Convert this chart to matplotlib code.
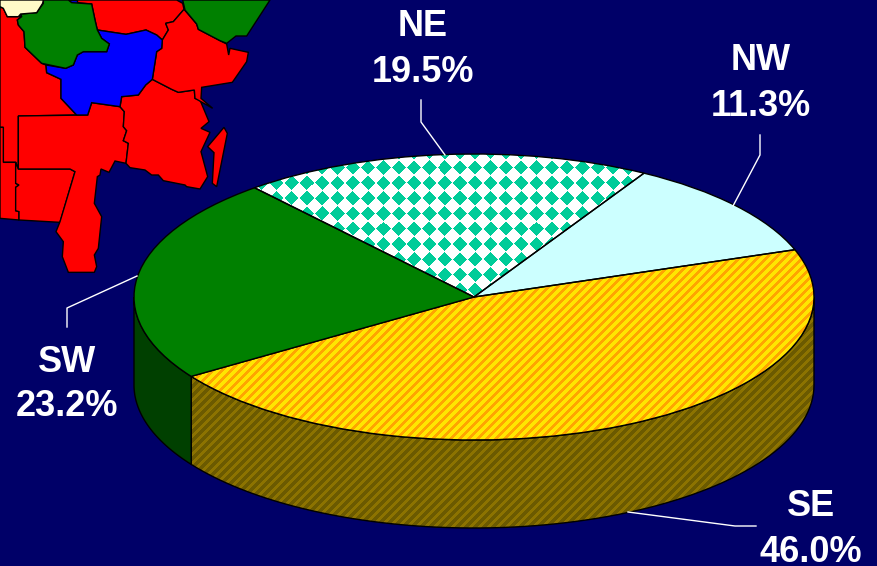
import numpy as np
import matplotlib
matplotlib.use('Agg')
import matplotlib.pyplot as plt
from matplotlib.patches import Polygon

##################################################################
# DATA
##################################################################
regions = ['NW', 'SE', 'SW', 'NE']
shares = [11.3, 46.0, 23.2, 19.5]
share_labels = ['11.3%', '46.0%', '23.2%', '19.5%']
start_angle = 60.0

map_west = [(0,20),(10,25),(22,50),(55,50),(65,50),(52,60),(55,75),(72,95),(75,142),(125,190),(138,195),(140,218),(183,238),(183,295),(230,345),(55,348),(55,505),(47,487),(10,487),(10,382),(0,382)]
map_sw1 = [(0,382),(10,382),(10,487),(47,487),(47,550),(57,555),(47,562),(47,632),(57,635),(57,660),(0,655)]
map_sw2 = [(55,507),(210,507),(225,515),(180,667),(57,660),(57,635),(47,632),(47,562),(57,555),(47,550),(47,487)]
map_mid = [(55,348),(263,345),(275,308),(360,320),(373,335),(370,380),(380,392),(370,422),(385,430),(378,490),(345,483),(327,517),(303,507),(300,525),(292,530),(283,610),(305,650),(295,745),(283,765),(290,800),(283,817),(205,817),(187,770),(190,725),(168,695),(180,665),(225,515),(210,507),(55,507)]
map_east = [(457,238),(515,268),(535,277),(583,270),(585,295),(600,300),(627,365),(603,385),(630,397),(603,455),(623,530),(600,567),(560,560),(555,555),(490,542),(475,525),(455,525),(435,510),(390,503),(378,490),(385,430),(370,422),(380,392),(370,380),(373,335),(360,320),(365,290),(415,285),(437,255)]
map_island = [(672,382),(682,400),(650,560),(637,550),(642,458),(623,440)]
map_north = [(232,8),(275,12),(285,60),(292,90),(378,103),(438,90),(470,105),(487,120),(505,90),(497,70),(520,65),(552,28),(548,10),(530,0),(232,0)]
map_ne = [(552,28),(590,72),(595,88),(660,122),(680,132),(686,165),(690,145),(745,157),(740,185),(697,247),(605,262),(603,295),(638,325),(585,295),(583,270),(535,277),(515,268),(457,238),(470,155),(485,145),(487,120),(505,90),(497,70),(520,65)]
map_blue = [(292,90),(378,103),(438,90),(470,105),(487,120),(485,145),(470,155),(457,238),(437,255),(415,285),(365,290),(360,320),(275,308),(263,345),(230,345),(183,295),(183,238),(140,218),(138,195),(197,205),(220,195),(232,165),(250,155),(320,155),(328,132),(305,115)]
map_blue_top = [(205,0),(232,0),(232,8),(215,8)]
map_green_w = [(130,0),(205,0),(215,8),(275,12),(285,60),(292,90),(305,115),(328,132),(320,155),(250,155),(232,165),(220,195),(197,205),(125,190),(75,142),(72,95),(55,75),(52,60),(65,50),(62,42),(110,38),(130,10)]
map_green_e = [(548,0),(555,30),(590,72),(595,88),(660,122),(680,130),(708,108),(740,108),(810,0)]
map_cream = [(0,0),(130,0),(128,10),(110,38),(62,42),(55,50),(22,50),(10,25),(0,20)]

##################################################################
# LAYOUT
##################################################################
W, H = 878, 566
BG = '#000068'
cx, cy, rx, ry, depth = 474, 297, 340, 143, 88

fig = plt.figure(figsize=(W / 100, H / 100), dpi=100, facecolor=BG)

# pixel axes for map, leaders and labels
ax_px = fig.add_axes([0, 0, 1, 1])
ax_px.set_xlim(0, W)
ax_px.set_ylim(H, 0)
ax_px.axis('off')

for pts, col in [(map_west, 'red'), (map_sw1, 'red'), (map_sw2, 'red'), (map_mid, 'red'),
                 (map_east, 'red'), (map_island, 'red'), (map_north, 'red'), (map_ne, 'red'),
                 (map_blue, '#0000FF'), (map_blue_top, '#0000FF'), (map_green_w, '#008000'),
                 (map_green_e, '#008000'), (map_cream, '#FFFBC8')]:
    ax_px.add_patch(Polygon(np.array(pts) / 3, closed=True, fc=col, ec='black', lw=1))

##################################################################
# PIE (unit circle squashed by the axes limits)
##################################################################
ax = fig.add_axes([0, 0, 1, 1])
ax.patch.set_alpha(0)
wedges, _ = ax.pie(shares, startangle=start_angle, counterclock=False, radius=1,
                   wedgeprops=dict(edgecolor='black', linewidth=1))
ax.set_aspect('auto')
xlim = (-cx / rx, (W - cx) / rx)
ylim = ((cy - H) / ry, cy / ry)
ax.set_xlim(xlim)
ax.set_ylim(ylim)
ax.axis('off')
d = depth / ry

# pixel grid textures, clipped to the pieces
yy, xx = np.mgrid[0:H, 0:W]
extent = (xlim[0], xlim[1], ylim[0], ylim[1])


def stripes(c1, c2):
    t = (((xx + yy) % 9.0) / 9.0 < 0.5)[..., None]
    c1 = np.array(matplotlib.colors.to_rgb(c1))
    c2 = np.array(matplotlib.colors.to_rgb(c2))
    return t * c1 + (~t) * c2


def diamonds(fg):
    p = 15.3
    u = np.abs((xx - 383 + p / 2) % p - p / 2)
    v = np.abs((yy - 167 + p / 2) % p - p / 2)
    m = (u + v < 7.2)[..., None]
    return m * np.array(matplotlib.colors.to_rgb(fg)) + (~m) * np.ones(3)


def side_patch(a0, a1, **kw):
    # outer wall between two angles in degrees
    t = np.radians(np.linspace(a0, a1, 80))
    top = np.c_[np.cos(t), np.sin(t)]
    low = top[::-1] - [0, d]
    return Polygon(np.r_[top, low], closed=True, **kw)


# angles of the slice borders, clockwise from the start angle
ends = start_angle - np.cumsum(shares) * 3.6
se_a1 = ends[1]
sw_a0 = ends[1]

# walls at the front only: SE down to 0 deg, SW from its border back to 180
se_wall = side_patch(0, se_a1, fc='none', ec='black', lw=1, zorder=2)
ax.add_patch(se_wall)
im = ax.imshow(stripes('#6B5A00', '#8C7300'), extent=extent, aspect='auto', zorder=1,
               interpolation='bilinear')
im.set_clip_path(se_wall)
ax.add_patch(side_patch(sw_a0, -180, fc='#004000', ec='black', lw=1, zorder=2))

# top faces
for w, col in zip(wedges, ['#CCFFFF', None, '#008000', None]):
    w.set_zorder(5)
    w.set_facecolor(col if col else 'none')

im2 = ax.imshow(stripes('#FFE600', '#FFA500'), extent=extent, aspect='auto', zorder=4,
                interpolation='bilinear')
im2.set_clip_path(wedges[1])
im3 = ax.imshow(diamonds('#00CC99'), extent=extent, aspect='auto', zorder=4,
                interpolation='bilinear')
im3.set_clip_path(wedges[3])
ax.set_xlim(xlim)
ax.set_ylim(ylim)

##################################################################
# LEADERS AND LABELS
##################################################################
ax_top = fig.add_axes([0, 0, 1, 1])
ax_top.patch.set_alpha(0)
ax_top.set_xlim(0, W)
ax_top.set_ylim(H, 0)
ax_top.axis('off')

leaders = {'NE': [(421, 100), (421, 122), (445, 155)],
           'NW': [(760, 135), (760, 155), (733, 206)],
           'SW': [(67, 327), (67, 308), (137, 276)],
           'SE': [(628, 512), (735, 526), (756, 526)]}
label_pos = {'NE': (423, 27, 73), 'NW': (761, 61, 106), 'SW': (67, 362, 407), 'SE': (811, 507, 552)}

for name, pct in zip(regions, share_labels):
    pts = np.array(leaders[name])
    ax_top.plot(pts[:, 0], pts[:, 1], color='white', lw=1)
    x, y1, y2 = label_pos[name]
    for s, y in ((name, y1), (pct, y2)):
        ax_top.text(x, y, s, color='white', ha='center', va='center', fontsize=26,
                    fontweight='bold', family='Liberation Sans')

fig.savefig('out.png', dpi=100, facecolor=BG)
